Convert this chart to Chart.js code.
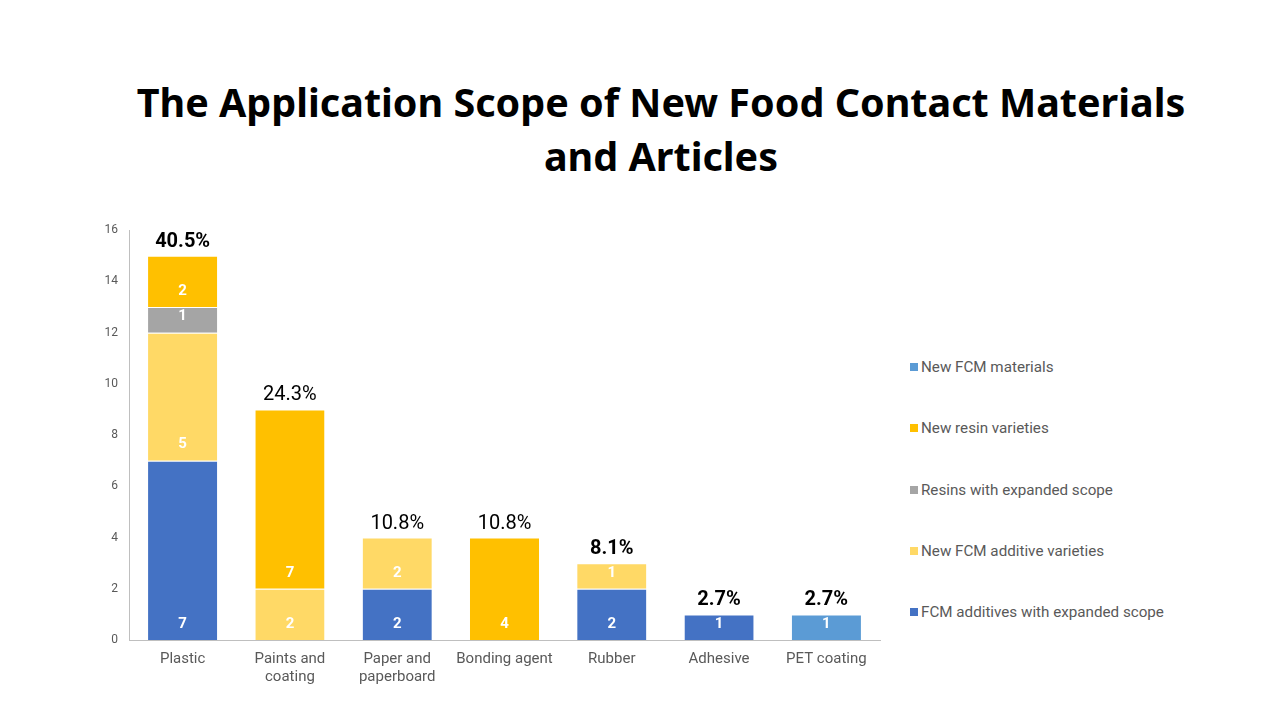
<!DOCTYPE html>
<html>
<head>
<meta charset="utf-8">
<script src="https://cdn.jsdelivr.net/npm/chart.js@4.4.0/dist/chart.umd.min.js"></script>
<style>
  html, body { margin: 0; padding: 0; background: #fff; }
  body { width: 1280px; height: 720px; position: relative; overflow: hidden; font-family: Roboto, "Noto Sans", sans-serif; }
  #title { position: absolute; left: 60px; width: 1202px; top: 75px; text-align: center;
           font-family: "Noto Sans", sans-serif; font-weight: bold; font-size: 39.5px; line-height: 54px; color: #000; }
  #wrap { position: absolute; left: 80px; top: 212px; width: 820px; height: 483px; }
  #legend { position: absolute; left: 910px; top: 0; }
  .item { position: absolute; white-space: nowrap; font-size: 15.2px; color: #595959; }
  .item span { display: inline-block; width: 8px; height: 8px; margin-right: 3px; vertical-align: 1px; }
</style>
</head>
<body>
<div id="title">The Application Scope of New Food Contact Materials<br>and Articles</div>
<div id="wrap"><canvas id="chart"></canvas></div>
<div id="legend"></div>
<script>
// categories
const categories = ['Plastic', ['Paints and', 'coating'], ['Paper and', 'paperboard'], 'Bonding agent', 'Rubber', 'Adhesive', 'PET coating'];

// series values (bottom of stack first)
const additivesExpanded   = [7, null, 2, null, 2, 1, null];
const newAdditiveVarieties = [5, 2, 2, null, 1, null, null];
const resinsExpanded      = [1, null, null, null, null, null, null];
const newResinVarieties   = [2, 7, null, 4, null, null, null];
const newFcmMaterials     = [null, null, null, null, null, null, 1];

// share labels above each bar
const shareLabels = ['40.5%', '24.3%', '10.8%', '10.8%', '8.1%', '2.7%', '2.7%'];
const shareBold = [true, false, false, false, true, true, true];

const yTicks = [0, 2, 4, 6, 8, 10, 12, 14, 16];

const datasets = [
    { label: 'FCM additives with expanded scope', data: additivesExpanded, backgroundColor: '#4472C4' },
    { label: 'New FCM additive varieties', data: newAdditiveVarieties, backgroundColor: '#FFD966' },
    { label: 'Resins with expanded scope', data: resinsExpanded, backgroundColor: '#A5A5A5' },
    { label: 'New resin varieties', data: newResinVarieties, backgroundColor: '#FFC000' },
    { label: 'New FCM materials', data: newFcmMaterials, backgroundColor: '#5B9BD5' }
].map(d => Object.assign(d, {
    borderColor: '#ffffff',
    borderWidth: { top: 1, left: 0, right: 0, bottom: 0 },
    borderSkipped: false,
    barPercentage: 0.645,
    categoryPercentage: 1
}));

// labels inside segments and share labels on top
const labelPlugin = {
    id: 'labelPlugin',
    afterDatasetsDraw(chart) {
        const ctx = chart.ctx;
        ctx.save();
        ctx.textAlign = 'center';
        ctx.textBaseline = 'middle';
        ctx.fillStyle = '#ffffff';
        ctx.font = 'bold 15px Roboto, "Noto Sans", sans-serif';
        chart.data.datasets.forEach((ds, i) => {
            const meta = chart.getDatasetMeta(i);
            meta.data.forEach((bar, j) => {
                const v = ds.data[j];
                if (v == null) return;
                ctx.fillText(String(v), bar.x, bar.base - 16);
            });
        });
        // share labels
        const y = chart.scales.y;
        ctx.fillStyle = '#000000';
        ctx.textBaseline = 'alphabetic';
        categories.forEach((c, j) => {
            let total = 0;
            chart.data.datasets.forEach(ds => { total += ds.data[j] || 0; });
            const x = chart.getDatasetMeta(0).data[j].x;
            ctx.font = (shareBold[j] ? 'bold ' : '') + '20px Roboto, "Noto Sans", sans-serif';
            ctx.fillText(shareLabels[j], x, y.getPixelForValue(total) - 9);
        });
        ctx.restore();
    }
};

new Chart(document.getElementById('chart'), {
    type: 'bar',
    data: { labels: categories, datasets: datasets },
    plugins: [labelPlugin],
    options: {
        responsive: true,
        maintainAspectRatio: false,
        animation: false,
        layout: { padding: { top: 11, right: 20, left: 0, bottom: 0 } },
        plugins: {
            legend: { display: false },
            tooltip: { enabled: false }
        },
        scales: {
            x: {
                stacked: true,
                grid: { display: false, drawTicks: false },
                border: { color: '#BFBFBF', width: 1 },
                ticks: { color: '#595959', font: { size: 15, family: 'Roboto' }, padding: 10, maxRotation: 0, autoSkip: false },
                afterFit(scale) { scale.height = 55; }
            },
            y: {
                stacked: true,
                min: 0,
                max: 16,
                afterBuildTicks(scale) { scale.ticks = yTicks.map(v => ({ value: v })); },
                grid: { display: false, drawTicks: false },
                border: { color: '#BFBFBF', width: 1 },
                ticks: { color: '#595959', font: { size: 12, family: 'Roboto' }, padding: 11 },
                afterFit(scale) { scale.width = 49; }
            }
        }
    }
});

// legend (top item = top of stack)
const legendEl = document.getElementById('legend');
const legendTops = [368, 429, 491, 552, 613];
datasets.slice().reverse().forEach((ds, k) => {
    const div = document.createElement('div');
    div.className = 'item';
    div.style.top = (legendTops[k] - 10) + 'px';
    div.innerHTML = '<span style="background:' + ds.backgroundColor + '"></span>' + ds.label;
    legendEl.appendChild(div);
});
</script>
</body>
</html>
